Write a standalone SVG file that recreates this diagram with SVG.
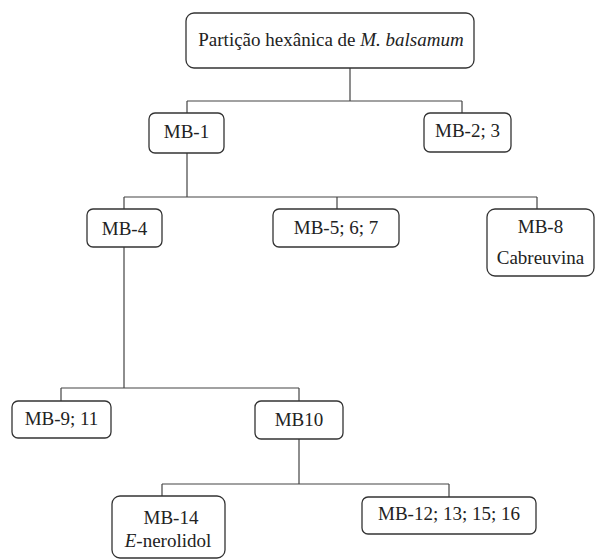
<svg xmlns="http://www.w3.org/2000/svg" width="595" height="560" viewBox="0 0 595 560">
<style>
.box{fill:#fff;stroke:#333;stroke-width:1.3}
.t{font-family:'Liberation Serif',serif;font-size:19px;fill:#222;text-anchor:middle}
.c{fill:none;stroke:#444;stroke-width:1.2}
</style>
<rect width="595" height="560" fill="#fff"/>
<g id="connectors" class="c">
<path d="M350 68V101M187 101H462M187 101V113M462 101V113"/>
<path d="M187 153V197M124 197H537M124 197V209M337 197V209M537 197V209"/>
<path d="M124 247V388M61 388H299M61 388V401M299 388V401"/>
<path d="M299 439V484M162 484H449M162 484V496M449 484V497"/>
</g>
<g id="root"><rect class="box" x="186" y="13" width="288" height="55" rx="8"/><text class="t" x="331" y="46">Partição hexânica de <tspan font-style="italic">M. balsamum</tspan></text></g>
<g id="mb1"><rect class="box" x="149" y="113" width="75" height="40" rx="6"/><text class="t" x="186.5" y="138">MB-1</text></g>
<g id="mb2"><rect class="box" x="424" y="113" width="87" height="39" rx="6"/><text class="t" x="467.5" y="137">MB-2; 3</text></g>
<g id="mb4"><rect class="box" x="87" y="209" width="75" height="38" rx="6"/><text class="t" x="124.5" y="235">MB-4</text></g>
<g id="mb5"><rect class="box" x="273" y="209" width="126" height="38" rx="6"/><text class="t" x="336" y="234">MB-5; 6; 7</text></g>
<g id="mb8"><rect class="box" x="487" y="209" width="107" height="67" rx="8"/><text class="t" x="540.5" y="233">MB-8</text><text class="t" x="540.5" y="264">Cabreuvina</text></g>
<g id="mb9"><rect class="box" x="12" y="401" width="99" height="37" rx="6"/><text class="t" x="61.5" y="425">MB-9; 11</text></g>
<g id="mb10"><rect class="box" x="255" y="401" width="88" height="38" rx="6"/><text class="t" x="299" y="426">MB10</text></g>
<g id="mb14"><rect class="box" x="112" y="496" width="113" height="62" rx="8"/><text class="t" x="171" y="524">MB-14</text><text class="t" x="168" y="547"><tspan font-style="italic">E</tspan>-nerolidol</text></g>
<g id="mb12"><rect class="box" x="362" y="497" width="174" height="37" rx="6"/><text class="t" x="449" y="520">MB-12; 13; 15; 16</text></g>
</svg>
